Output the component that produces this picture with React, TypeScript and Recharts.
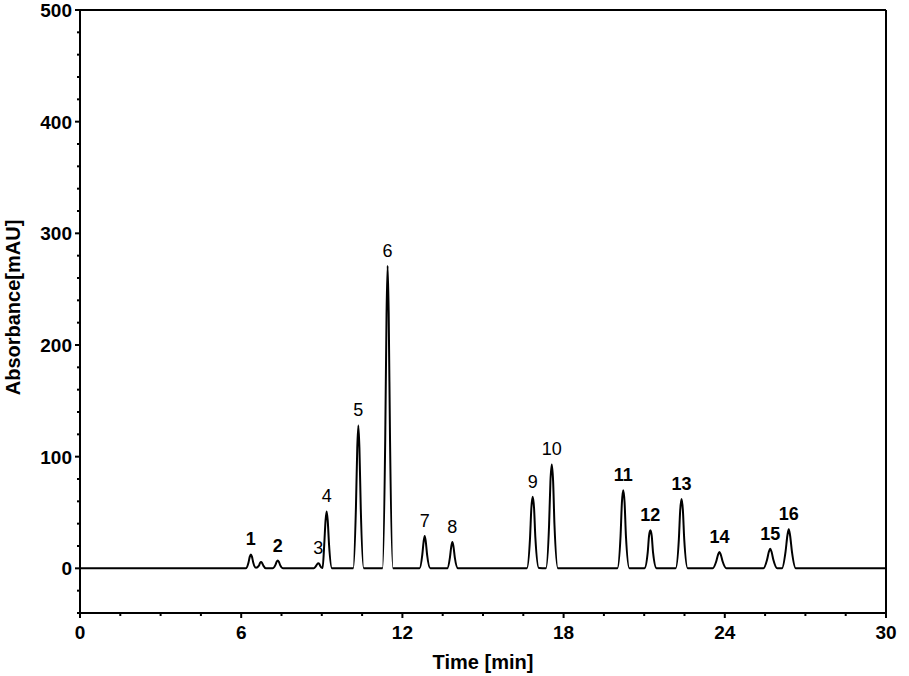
import { ComposedChart, Line, XAxis, YAxis, ReferenceLine, ReferenceDot } from "recharts";

// chromatogram trace (time in min, absorbance in mAU)
const traceTime = [
  0, 6.17, 6.27, 6.32, 6.36, 6.4, 6.45, 6.55, // 1
  6.66, 6.7, 6.74, 6.78, 6.83, 6.92, // small shoulder
  7.17, 7.27, 7.32, 7.36, 7.4, 7.45, 7.56, // 2
  8.7, 8.78, 8.83, 8.87, 8.91, 8.95, 8.99, // 3
  9.03, 9.09, 9.14, 9.18, 9.22, 9.27, 9.38, // 4
  10.17, 10.27, 10.32, 10.36, 10.4, 10.45, 10.56, // 5
  11.26, 11.36, 11.41, 11.45, 11.49, 11.54, 11.65, // 6
  12.64, 12.74, 12.79, 12.83, 12.87, 12.92, 13.04, // 7
  13.67, 13.77, 13.82, 13.86, 13.9, 13.95, 14.07, // 8
  16.63, 16.75, 16.8, 16.85, 16.9, 16.95, 17.08, // 9
  17.34, 17.46, 17.51, 17.56, 17.61, 17.66, 17.79, // 10
  20.0, 20.12, 20.17, 20.22, 20.27, 20.32, 20.45, // 11
  21.01, 21.13, 21.18, 21.23, 21.28, 21.33, 21.46, // 12
  22.17, 22.29, 22.34, 22.39, 22.44, 22.49, 22.62, // 13
  23.55, 23.68, 23.75, 23.8, 23.85, 23.92, 24.06, // 14
  25.44, 25.57, 25.64, 25.69, 25.74, 25.81, 25.95, // 15
  26.13, 26.26, 26.33, 26.38, 26.43, 26.5, 26.64, // 16
  30,
];
const traceAbs = [
  0, 0, 5.0, 10.5, 12.5, 10.5, 5.0, 0.5,
  2.4, 4.7, 5.6, 4.7, 2.2, 0,
  0, 2.9, 5.9, 7, 5.9, 2.9, 0,
  0, 1.9, 3.8, 4.5, 3.8, 1.8, 0.6,
  0.4, 21, 43, 51, 43, 21, 0,
  0, 54, 108, 128, 108, 54, 0,
  0, 114, 228, 271, 228, 114, 0,
  0, 12, 24, 29, 24, 12, 0,
  0, 9.9, 19.7, 23.5, 19.7, 9.9, 0,
  0, 27, 54, 64, 54, 27, 0.2,
  0, 39, 78, 93, 78, 39, 0,
  0, 29, 59, 70, 59, 29, 0,
  0, 14, 29, 34, 29, 14, 0,
  0, 26, 52, 62, 52, 26, 0,
  0, 6.1, 12.3, 14.6, 12.3, 6.1, 0,
  0, 7.4, 14.8, 17.6, 14.8, 7.4, 0,
  0, 14.7, 29.4, 35, 29.4, 14.7, 0,
  0,
];

const peakNames = ["1", "2", "3", "4", "5", "6", "7", "8", "9", "10", "11", "12", "13", "14", "15", "16"];
const peakTimes = [6.36, 7.36, 8.87, 9.18, 10.36, 11.45, 12.83, 13.86, 16.85, 17.56, 20.22, 21.23, 22.39, 23.8, 25.69, 26.38];
const peakHeights = [12.5, 7, 4.5, 51, 128, 271, 29, 23.5, 64, 93, 70, 34, 62, 14.6, 17.6, 35];
const boldPeaks = ["1", "2", "11", "12", "13", "14", "15", "16"];

const xTicks = [0, 1.5, 3, 4.5, 6, 7.5, 9, 10.5, 12, 13.5, 15, 16.5, 18, 19.5, 21, 22.5, 24, 25.5, 27, 28.5, 30];
const xLabelled = [0, 6, 12, 18, 24, 30];
const yTicks = [-40, -20, 0, 20, 40, 60, 80, 100, 120, 140, 160, 180, 200, 220, 240, 260, 280, 300, 320, 340, 360, 380, 400, 420, 440, 460, 480, 500];
const yLabelled = [0, 100, 200, 300, 400, 500];

const data = traceTime.map((t, i) => ({ time: t, abs: traceAbs[i] }));

const FONT = "'Liberation Sans', Arial, Helvetica, sans-serif";

const XTick = ({ x, y, payload }: any) => {
  const major = xLabelled.includes(payload.value);
  return (
    <g>
      <line x1={x} x2={x} y1={y} y2={y + (major ? 5 : 3)} stroke="#000" strokeWidth={2} />
      {major && (
        <text x={x} y={y + 26} textAnchor="middle" fontSize={19} fontWeight="bold" fontFamily={FONT} fill="#000">
          {payload.value}
        </text>
      )}
    </g>
  );
};

const YTick = ({ x, y, payload }: any) => {
  const major = yLabelled.includes(payload.value);
  return (
    <g>
      <line x1={x} x2={x - (major ? 5 : 3)} y1={y} y2={y} stroke="#000" strokeWidth={2} />
      {major && (
        <text x={x - 8} y={y + 7} textAnchor="end" fontSize={19} fontWeight="bold" fontFamily={FONT} fill="#000">
          {payload.value}
        </text>
      )}
    </g>
  );
};

export default function App() {
  return (
    <div style={{ position: "absolute", left: 0, top: 0, background: "#fff" }}>
      <ComposedChart width={909} height={676} data={data} margin={{ top: 10, right: 23, bottom: 0, left: 0 }}>
        <XAxis
          dataKey="time"
          type="number"
          domain={[0, 30]}
          ticks={xTicks}
          interval={0}
          height={63}
          tickSize={0}
          tickMargin={0}
          tickLine={false}
          tick={<XTick />}
          axisLine={{ stroke: "#000", strokeWidth: 2 }}
          label={{
            content: ({ viewBox }: any) => (
              <text
                x={viewBox.x + viewBox.width / 2}
                y={viewBox.y + 56}
                textAnchor="middle"
                fontSize={20}
                fontWeight="bold"
                fontFamily={FONT}
                fill="#000"
              >
                Time [min]
              </text>
            ),
          }}
        />
        <YAxis
          type="number"
          domain={[-40, 500]}
          ticks={yTicks}
          interval={0}
          width={80}
          tickSize={0}
          tickMargin={0}
          tickLine={false}
          tick={<YTick />}
          axisLine={{ stroke: "#000", strokeWidth: 2 }}
          label={{
            content: ({ viewBox }: any) => {
              const cx = 20;
              const cy = viewBox.y + viewBox.height / 2 - 4;
              return (
                <text
                  x={cx}
                  y={cy}
                  transform={`rotate(-90, ${cx}, ${cy})`}
                  textAnchor="middle"
                  fontSize={20}
                  fontWeight="bold"
                  fontFamily={FONT}
                  fill="#000"
                >
                  Absorbance[mAU]
                </text>
              );
            },
          }}
        />
        <ReferenceLine y={500} stroke="#000" strokeWidth={2} />
        <ReferenceLine x={30} stroke="#000" strokeWidth={2} />
        <Line
          type="monotone"
          dataKey="abs"
          stroke="#000"
          strokeWidth={2}
          dot={false}
          isAnimationActive={false}
        />
        {peakNames.map((name, i) => (
          <ReferenceDot
            key={name}
            x={peakTimes[i]}
            y={peakHeights[i]}
            r={0}
            fill="none"
            stroke="none"
            ifOverflow="visible"
            label={{
              value: name,
              position: "top",
              offset: 9,
              fontSize: 18,
              fontWeight: boldPeaks.includes(name) ? "bold" : "normal",
              fontFamily: FONT,
              fill: "#000",
            }}
          />
        ))}
      </ComposedChart>
    </div>
  );
}
